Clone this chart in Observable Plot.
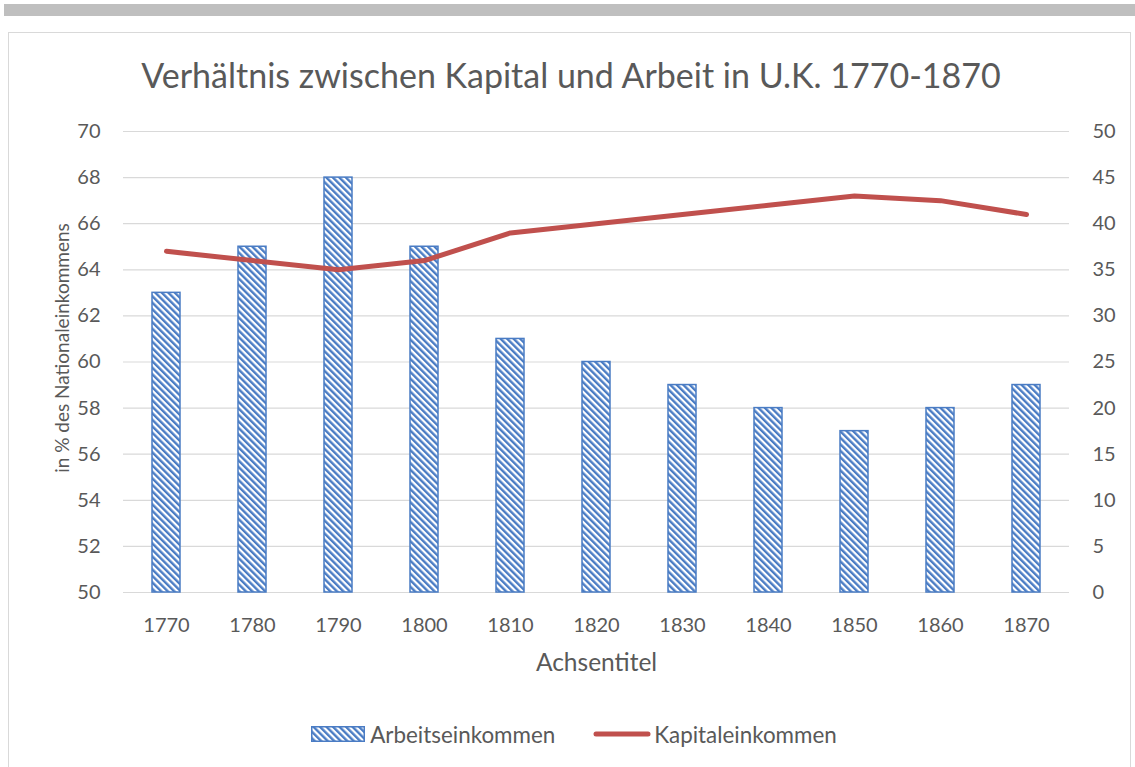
<!DOCTYPE html>
<html><head><meta charset="utf-8">
<script src="https://cdn.jsdelivr.net/npm/d3@7"></script>
<script src="https://cdn.jsdelivr.net/npm/@observablehq/plot@0.6"></script>
<style>
body{margin:0;background:#fff;font-family:Lato,sans-serif;width:1135px;height:767px;overflow:hidden;position:relative}
#topbar{position:absolute;left:4px;top:4px;width:1131px;height:12px;background:#bfbfbf}
#frame{position:absolute;left:8px;top:32px;width:1123px;height:760px;border:1px solid #d9d9d9;box-sizing:border-box}
#title{position:absolute;left:0;width:1142px;top:55px;text-align:center;font-size:34px;line-height:40px;color:#595959;white-space:nowrap}
#chart{position:absolute;left:0;top:100px}
#legend{position:absolute;top:721px;left:0;width:1148px;display:flex;justify-content:center;align-items:center;font-size:22.4px;color:#595959;height:26px}
.item{display:flex;align-items:center}
.sw{display:inline-block}
</style></head>
<body>
<div id="topbar"></div>
<div id="frame"></div>
<div id="title">Verhältnis zwischen Kapital und Arbeit in U.K. 1770-1870</div>
<div id="chart"></div>
<div id="legend">
  <div class="item"><svg class="sw" width="54" height="16" style="margin-right:5px"><rect x="0.75" y="0.75" width="52.5" height="14.5" fill="url(#hatchL)" stroke="#4a7cc4" stroke-width="1.5"/><defs><pattern id="hatchL" patternUnits="userSpaceOnUse" width="4.6" height="4.6" patternTransform="rotate(-45)"><rect width="4.6" height="4.6" fill="#fff"/><rect width="2.4" height="4.6" fill="#4a7cc4"/></pattern></defs></svg><span>Arbeitseinkommen</span></div>
  <div class="item" style="margin-left:38px"><svg class="sw" width="58" height="10" style="margin-right:3px"><line x1="3" y1="5" x2="55" y2="5" stroke="#c0504d" stroke-width="5" stroke-linecap="round"/></svg><span>Kapitaleinkommen</span></div>
</div>
<script>
const years = [1770, 1780, 1790, 1800, 1810, 1820, 1830, 1840, 1850, 1860, 1870];
const arbeitseinkommen = [63, 65, 68, 65, 61, 60, 59, 58, 57, 58, 59];
const kapitaleinkommen = [37, 36, 35, 36, 39, 40, 41, 42, 43, 42.5, 41];
const leftTicks = [50, 52, 54, 56, 58, 60, 62, 64, 66, 68, 70];
const rightTicks = [0, 5, 10, 15, 20, 25, 30, 35, 40, 45, 50];

const toLeft = d3.scaleLinear([0, 50], [50, 70]);
const barData = years.map((year, i) => ({year, value: arbeitseinkommen[i]}));
const lineData = years.map((year, i) => ({year, value: toLeft(kapitaleinkommen[i])}));

const chart = Plot.plot({
  width: 1135, height: 590,
  marginLeft: 123, marginRight: 66, marginTop: 31, marginBottom: 98,
  style: {fontFamily: "Lato, sans-serif", fontSize: "20px", color: "#595959", background: "transparent"},
  x: {type: "band", domain: years, paddingInner: 0.67, paddingOuter: 0.335, align: 0.5},
  y: {domain: [50, 70]},
  marks: [
    Plot.gridY(leftTicks, {stroke: "#d9d9d9", strokeOpacity: 1, strokeWidth: 1.2}),
    Plot.barY(barData, {x: "year", y1: 50, y2: "value", fill: "url(#hatch)", stroke: "#4a7cc4", strokeWidth: 1.5}),
    Plot.lineY(lineData, {x: "year", y: "value", stroke: "#c0504d", strokeWidth: 5, strokeLinejoin: "round", strokeLinecap: "round"}),
    Plot.axisX({tickSize: 0, tickPadding: 25, label: null, fill: "#595959", tickFormat: d => String(d)}),
    Plot.axisY(leftTicks, {anchor: "left", tickSize: 0, tickPadding: 23, label: null, fill: "#595959"}),
    Plot.axisY(rightTicks.map(toLeft), {anchor: "right", tickSize: 0, tickPadding: 23, label: null, fill: "#595959",
      tickFormat: d => String(Math.round(toLeft.invert(d)))}),
    Plot.text(["in % des Nationaleinkommens"], {frameAnchor: "left", textAnchor: "middle", lineAnchor: "middle", rotate: -90, dx: -61, dy: -14, fontSize: 19, fill: "#595959"}),
    Plot.text(["Achsentitel"], {frameAnchor: "bottom", textAnchor: "middle", lineAnchor: "middle", dy: 71, dx: 0, fontSize: 24.5, fill: "#595959"})
  ]
});

const defs = d3.create("svg:defs");
const pat = defs.append("pattern").attr("id", "hatch").attr("patternUnits", "userSpaceOnUse")
  .attr("width", 4.6).attr("height", 4.6).attr("patternTransform", "rotate(-45)");
pat.append("rect").attr("width", 4.6).attr("height", 4.6).attr("fill", "#fff");
pat.append("rect").attr("width", 2.4).attr("height", 4.6).attr("fill", "#4a7cc4");
chart.insertBefore(defs.node(), chart.firstChild);
document.getElementById("chart").appendChild(chart);
</script>
</body></html>
